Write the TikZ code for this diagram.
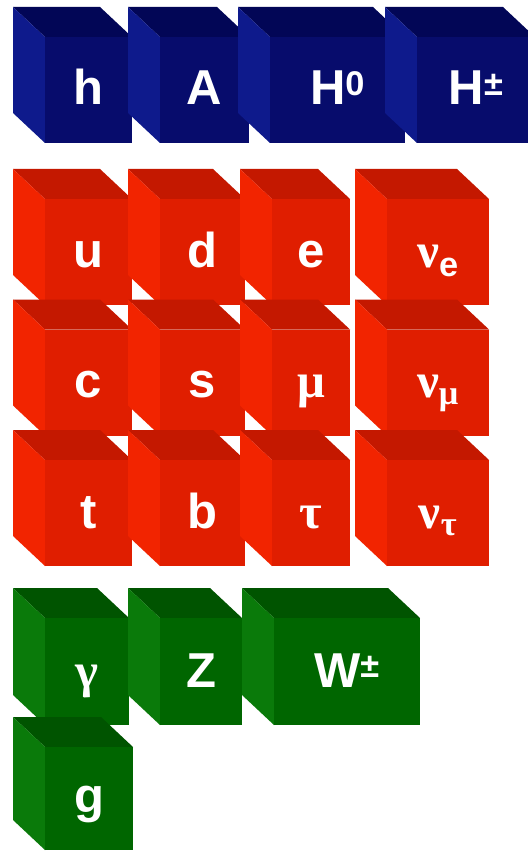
\documentclass[tikz,border=0pt]{standalone}
\usepackage{fontspec}
\setmainfont{Liberation Sans}
\newfontfamily\gk{Liberation Serif}
\definecolor{bluefront}{HTML}{070C6C}
\definecolor{bluetop}{HTML}{020656}
\definecolor{blueside}{HTML}{0E1A8C}
\definecolor{redfront}{HTML}{E01E00}
\definecolor{redtop}{HTML}{C41800}
\definecolor{redside}{HTML}{F22400}
\definecolor{greenfront}{HTML}{006600}
\definecolor{greentop}{HTML}{005400}
\definecolor{greenside}{HTML}{0A7A0A}
\tikzset{particle/.style={text=white, font=\fontsize{49}{52}\selectfont\bfseries, inner sep=0pt, anchor=base}}
\newcommand{\dX}{32}
\newcommand{\dY}{30}
% x, y, back width, height, colour family, name, label
\newcommand{\partcube}[7]{%
  \fill[#5top] (#1,#2) -- ++(#3,0) -- ++(\dX,\dY) -- ++(-#3,0) -- cycle;
  \fill[#5side] (#1,#2) -- ++(\dX,\dY) -- ++(0,#4-\dY) -- ++(-\dX,-\dY) -- cycle;
  \fill[#5front] (#1+\dX,#2+\dY) rectangle ++(#3,#4-\dY);
  \node[particle] (#6) at (#1+\dX+#3/2,#2+#4-38) {#7};
}

\begin{document}
\begin{tikzpicture}[x=1pt,y=-1pt]
  \fill[white] (0,0) rectangle (527,853);
  \useasboundingbox (0,0) rectangle (527,853);

  % Higgs bosons
  \foreach \x/\w/\nm/\lab in {13/87/h/h, 128/89/A/A, 238/135/Hz/{H\textsuperscript{0}}, 385/118/Hpm/{H\textsuperscript{±}}}
    \partcube{\x}{7}{\w}{136}{blue}{\nm}{\lab};

  % quarks and leptons
  \foreach \x/\y/\w/\nm/\lab in {
      13/169/87/u/u, 128/169/85/d/d, 240/169/78/e/e, 355/169/102/nue/{{\gk ν}\textsubscript{e}},
      13/299.5/87/c/c, 128/299.5/85/s/s, 240/299.5/78/mu/{{\gk μ}}, 355/299.5/102/numu/{{\gk ν}\textsubscript{\gk μ}},
      13/430/87/t/t, 128/430/85/b/b, 240/430/78/tau/{{\gk τ}}, 355/430/102/nutau/{{\gk ν}\textsubscript{\gk τ}}}
    \partcube{\x}{\y}{\w}{136}{red}{\nm}{\lab};

  % gauge bosons
  \foreach \x/\w/\nm/\lab in {13/84/gamma/{{\gk γ}}, 128/82/Z/Z, 242/146/W/{W\textsuperscript{±}}}
    \partcube{\x}{588}{\w}{137}{green}{\nm}{\lab};
  \partcube{13}{717}{88}{133}{green}{g}{g}
\end{tikzpicture}
\end{document}
